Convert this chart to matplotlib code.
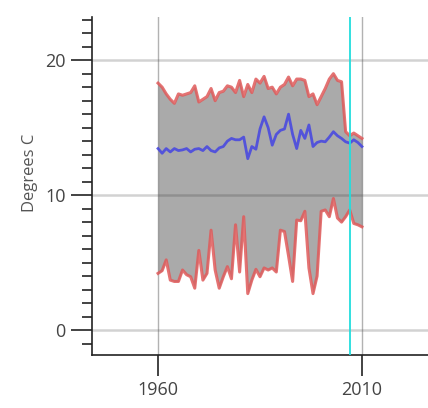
import matplotlib
matplotlib.use("Agg")
import matplotlib.pyplot as plt
import numpy as np

plt.rcParams['font.family'] = ['Open Sans', 'DejaVu Sans']

years = list(range(1960, 2011))
t_max = [18.3, 18.0, 17.5, 17.1, 16.8, 17.5, 17.4, 17.5, 17.6, 18.1,
         16.9, 17.1, 17.3, 17.9, 17.0, 17.6, 17.7, 18.1, 18.0, 17.6,
         18.5, 17.3, 18.2, 17.6, 18.6, 18.3, 18.8, 17.9, 18.0, 17.5,
         18.0, 18.2, 18.75, 18.1, 18.6, 18.6, 18.5, 17.3, 17.5, 16.7,
         17.3, 17.9, 18.6, 19.0, 18.5, 18.4, 14.7, 14.4, 14.6, 14.4,
         14.2]
t_mean = [13.45, 13.1, 13.45, 13.2, 13.45, 13.3, 13.35, 13.45, 13.2, 13.4,
          13.45, 13.3, 13.6, 13.3, 13.2, 13.5, 13.6, 14.0, 14.2, 14.1,
          14.1, 14.3, 12.7, 13.6, 13.4, 14.9, 15.8, 15.0, 13.7, 14.5,
          14.8, 14.9, 16.0, 14.5, 13.45, 14.8, 14.2, 15.2, 13.6, 13.9,
          14.0, 13.95, 14.3, 14.7, 14.4, 14.2, 13.95, 13.85, 14.1, 13.9,
          13.6]
t_min = [4.2, 4.4, 5.2, 3.7, 3.6, 3.6, 4.45, 4.1, 3.95, 3.1,
         5.9, 3.7, 4.2, 7.4, 4.45, 3.1, 3.95, 4.7, 3.8, 7.8,
         4.3, 8.4, 2.7, 3.7, 4.5, 3.95, 4.6, 4.45, 4.6, 4.3,
         7.4, 7.3, 5.5, 3.6, 8.15, 8.1, 8.8, 4.6, 2.7, 4.0,
         8.8, 8.9, 8.4, 9.75, 8.3, 8.0, 8.4, 8.9, 7.9, 7.8,
         7.65]
marker_year = 2007
x_ticks = [1960, 2010]
y_ticks = [0, 10, 20]
y_label = "Degrees C"

fig = plt.figure(figsize=(4.28, 4.08), dpi=100)
ax = fig.add_axes([92/428, 1-355/408, 1-92/428, (355-17)/408])

ax.fill_between(years, t_min, t_max, color='#aaaaaa', lw=0, zorder=1)
ax.plot(years, t_max, color='#e05a5a', lw=2.2, alpha=0.85, zorder=3)
ax.plot(years, t_min, color='#e05a5a', lw=2.2, alpha=0.85, zorder=3)
ax.plot(years, t_mean, color='#4a4ae0', lw=2.0, alpha=0.9, zorder=4)
ax.axvline(marker_year, color='#22dddd', lw=1.3, zorder=5)

for yv in y_ticks:
    ax.axhline(yv, color='#333333', alpha=0.22, lw=1.8, zorder=2)
for xv in x_ticks:
    ax.axvline(xv, color='#555555', alpha=0.45, lw=1.0, zorder=2)

ax.set_xlim(1943.8, 2026.2)
ax.set_ylim(-1.85, 23.2)
ax.set_xticks(x_ticks)
ax.set_yticks(y_ticks)
ax.set_yticks(np.arange(-1, 24, 1), minor=True)
ax.tick_params(axis='both', which='major', length=15, width=1.2, color='#222222',
               labelsize=13, labelcolor='#444444', pad=4)
ax.tick_params(axis='y', which='minor', length=7, width=1.2, color='#222222')
ax.tick_params(axis='x', which='minor', length=0)

for s in ['top', 'right']:
    ax.spines[s].set_visible(False)
for s in ['left', 'bottom']:
    ax.spines[s].set_color('#222222')
    ax.spines[s].set_linewidth(1.2)

ax.set_ylabel(y_label, fontsize=12, color='#555555')
ax.yaxis.set_label_coords(-0.16, 0.538)

fig.savefig('out.png', dpi=100)
